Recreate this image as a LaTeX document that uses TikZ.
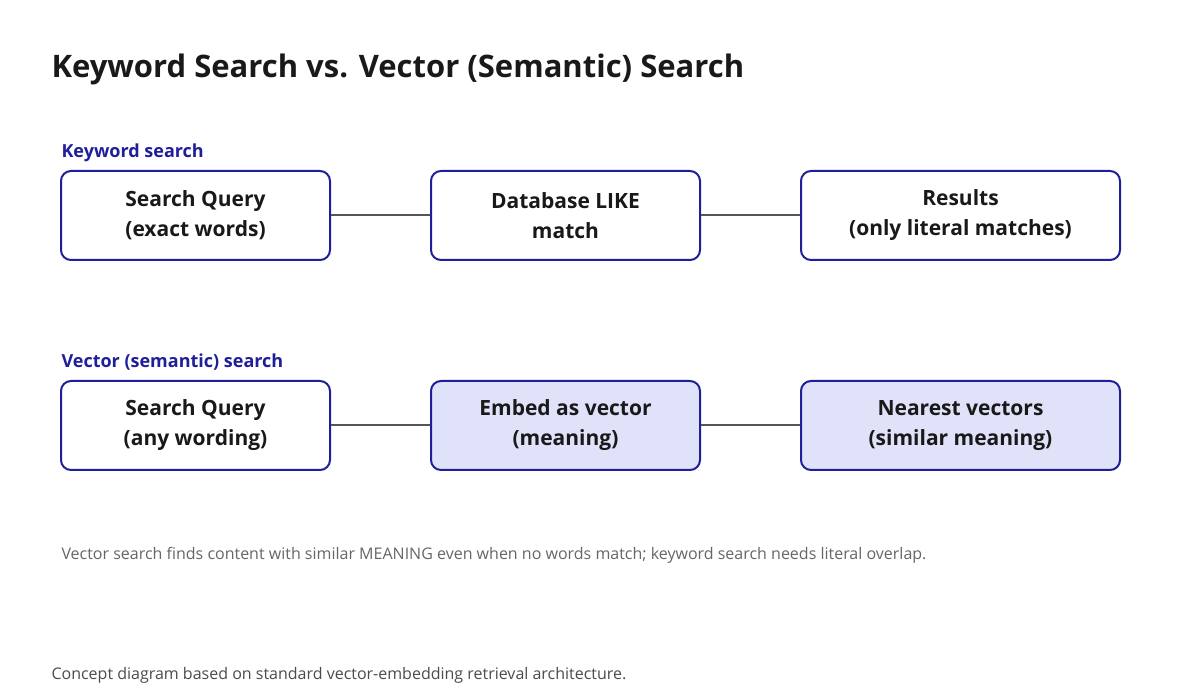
\documentclass[tikz,border=0pt]{standalone}
\usepackage{fontspec}
\setmainfont{Open Sans}
\definecolor{bblue}{HTML}{1F1F99}
\definecolor{bfill}{HTML}{E0E2FA}
\definecolor{conn}{HTML}{555555}
\begin{document}
\begin{tikzpicture}[x=1pt,y=-1pt,
  box/.style={draw=bblue,line width=2pt,rounded corners=10pt,minimum height=89pt,align=center,font=\fontsize{21}{30}\selectfont\bfseries,text=black!90},
  wbox/.style={box,fill=white},
  fbox/.style={box,fill=bfill},
  lab/.style={anchor=base west,text=bblue,font=\fontsize{18}{22}\selectfont\bfseries},
  link/.style={draw=conn,line width=2pt}]
\useasboundingbox[fill=white] (0,0) rectangle (1200,700);
\node[anchor=base west,font=\fontsize{31}{36}\selectfont\bfseries,text=black!90] (title) at (48,78) {Keyword Search vs. Vector (Semantic) Search};
\node[lab] (l1) at (58,158) {Keyword search};
\node[wbox,minimum width=269pt] (a1) at (195.5,215.5) {Search Query\\(exact words)};
\node[wbox,minimum width=269pt] (b1) at (565.5,215.5) {Database LIKE\\match};
\node[wbox,minimum width=319pt] (c1) at (960.5,215.5) {Results\\(only literal matches)};
\draw[link] (a1) -- (b1);
\draw[link] (b1) -- (c1);
\node[lab] (l2) at (58,368) {Vector (semantic) search};
\node[wbox,minimum width=269pt] (a2) at (195.5,425.5) {Search Query\\(any wording)};
\node[fbox,minimum width=269pt] (b2) at (565.5,425.5) {Embed as vector\\(meaning)};
\node[fbox,minimum width=319pt] (c2) at (960.5,425.5) {Nearest vectors\\(similar meaning)};
\draw[link] (a2) -- (b2);
\draw[link] (b2) -- (c2);
\node[anchor=base west,text=black!60,font=\fontsize{16}{20}\selectfont] (note) at (58,559) {Vector search finds content with similar MEANING even when no words match; keyword search needs literal overlap.};
\node[anchor=base west,text=black!70,font=\fontsize{16}{20}\selectfont] (cap) at (48,679) {Concept diagram based on standard vector-embedding retrieval architecture.};
\end{tikzpicture}
\end{document}
